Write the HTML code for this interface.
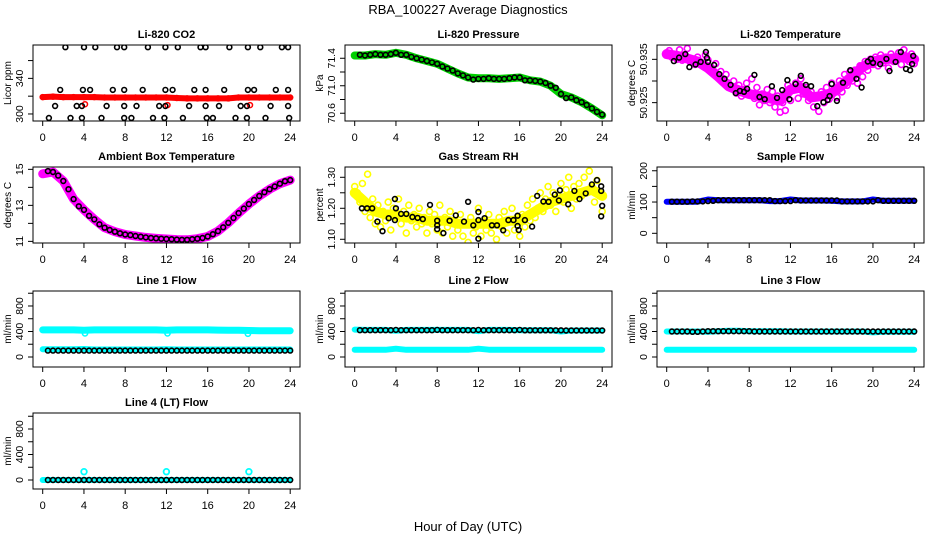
<!DOCTYPE html>
<html><head><meta charset="utf-8">
<style>
body{margin:0;background:#fff;}
svg{display:block;font-family:"Liberation Sans",Arial,sans-serif;}
</style></head>
<body>
<svg id="chart" width="936" height="540" viewBox="0 0 936 540" xmlns="http://www.w3.org/2000/svg">
<rect width="936" height="540" fill="#fff"/>
<text x="468" y="14" text-anchor="middle" font-size="13">RBA_100227  Average Diagnostics</text>
<text x="468" y="531" text-anchor="middle" font-size="13">Hour of Day (UTC)</text>
</svg>
<script>
// ---- data ----
const xTicks = [0,4,8,12,16,20,24];
const co2BlackHours = [2.2,4,5.1,7.2,7.9,10.2,11.9,13.1,15.3,15.8,18.1,19.9,21.1,23.2,23.8,
 1.7,3.9,4.6,6.8,7.9,9.7,11.9,12.6,14.7,15.8,17.6,19.9,20.5,22.6,23.8,
 1.2,3.3,3.8,6.2,7.9,9.1,11.3,11.9,14.2,15.8,17.1,19.2,19.8,22.1,23.8,
 0.6,2.7,3.8,5.7,7.9,8.6,10.7,11.8,13.6,15.9,16.5,18.7,19.8,21.6,23.9];
const co2BlackValues = [375,375,375,375,375,375,375,375,375,375,375,375,375,375,375,
 327,327,327,327,327,327,327,327,327,327,327,327,327,327,327,
 309,309,309,309,309,309,309,309,309,309,309,309,309,309,309,
 295.5,295.5,295.5,295.5,295.5,295.5,295.5,295.5,295.5,295.5,295.5,295.5,295.5,295.5,295.5];
const co2Red = [319,319.5,319,319,319,319,318.5,318.5,318.5,318.5,318.5,318.5,318.5,318,317.5,317.5,317.5,317.5,317.5,318.5,318.5,318.5,318.5,318.5,318.5];
const co2RedOutHours = [4.1,12.1,20.1];
const co2RedOutValues = [311,310,310];

const presBlack = [71.45,71.44,71.45,71.46,71.45,71.45,71.46,71.48,71.45,71.45,71.42,71.40,71.38,71.36,71.34,71.32,71.28,71.25,71.22,71.18,71.15,71.12,71.09,71.10,71.10,71.11,71.10,71.10,71.10,71.11,71.12,71.12,71.08,71.08,71.07,71.06,71.04,71.00,70.97,70.88,70.82,70.83,70.79,70.76,70.72,70.67,70.62,70.58];
const presGreen = [71.44,71.44,71.46,71.45,71.48,71.45,71.40,71.36,71.32,71.25,71.18,71.12,71.11,71.11,71.10,71.11,71.12,71.08,71.06,71.00,70.88,70.83,70.76,70.67,70.57];

const tempBlackHours = [0.7,1.2,1.8,2.2,2.8,3.3,3.8,3.9,4,4.6,5.1,5.6,6.2,6.7,7.1,7.5,7.8,8.5,9,9.5,10.2,10.7,11.2,11.7,11.9,12.5,13,13.5,14,14.6,15.2,15.6,15.8,16,16.5,17.1,17.8,18.4,18.9,19.5,19.8,20,20.7,21.3,21.6,22.2,22.7,23.2,23.6,23.8,23.9];
const tempBlackValues = [50.9346,50.9354,50.9362,50.9332,50.9338,50.9344,50.9367,50.9353,50.9344,50.9337,50.9316,50.9305,50.9291,50.9272,50.9277,50.9275,50.9282,50.9314,50.9263,50.9258,50.9288,50.9261,50.9279,50.9302,50.9258,50.9293,50.9312,50.9291,50.9288,50.9242,50.9251,50.9256,50.9265,50.9293,50.9254,50.9296,50.9325,50.9305,50.9285,50.9345,50.9351,50.9342,50.9339,50.9351,50.9323,50.9344,50.9367,50.9328,50.9325,50.9339,50.9358];
const tempMagenta = [50.9365,50.937,50.9355,50.936,50.935,50.9372,50.9348,50.936,50.9375,
 50.9345,50.935,50.9338,50.9355,50.9342,50.9335,50.936,50.9348,
 50.933,50.9318,50.934,50.931,50.9322,50.9305,50.9315,50.9295,
 50.9285,50.93,50.9272,50.929,50.9265,50.928,50.9295,50.927,
 50.9305,50.926,50.9285,50.9245,50.927,50.9255,50.928,50.925,
 50.9275,50.924,50.9265,50.9228,50.925,50.9232,50.929,50.9255,
 50.928,50.9295,50.926,50.9305,50.927,50.9285,50.9255,50.9275,
 50.924,50.9262,50.923,50.9275,50.925,50.9285,50.9258,50.9295,
 50.928,50.9262,50.93,50.9275,50.9315,50.929,50.932,50.93,
 50.9325,50.9295,50.9335,50.931,50.9345,50.9325,50.935,50.9338,
 50.9355,50.9335,50.936,50.9342,50.9355,50.933,50.9362,50.9345,
 50.9352,50.9365,50.9338,50.9372,50.935,50.9345,50.9362,50.934];
const tempMagentaTrend = [50.9362,50.9358,50.9352,50.9345,50.933,50.931,50.9288,50.9278,50.927,50.9265,50.926,50.9255,50.928,50.9285,50.9262,50.9265,50.9272,50.929,50.9312,50.9332,50.9345,50.935,50.9352,50.9356,50.935];

const ambBlack = [14.9,14.85,14.65,14.35,13.9,13.35,12.95,12.75,12.42,12.22,11.95,11.76,11.63,11.54,11.45,11.38,11.35,11.3,11.26,11.22,11.19,11.17,11.15,11.13,11.12,11.1,11.09,11.09,11.12,11.15,11.19,11.27,11.4,11.57,11.78,12.03,12.3,12.57,12.82,13.07,13.3,13.52,13.73,13.9,14.05,14.2,14.34,14.4];
const ambMagenta = [14.75,14.85,14.35,13.35,12.75,12.22,11.76,11.54,11.38,11.3,11.22,11.17,11.13,11.1,11.09,11.15,11.27,11.57,12.03,12.57,13.07,13.52,13.9,14.2,14.4];

const rhBlackHours = [0.7,1.2,1.7,2.2,2.7,3.3,3.9,3.9,4,4.5,5,5.6,6.1,6.6,7.3,8,8,8,8.6,9.2,9.8,10.6,11,11.5,12,12,12,12.6,13.3,13.8,14.4,14.9,15.4,15.8,15.8,15.9,16.5,17.2,17.7,18.3,18.8,19.4,19.8,19.9,20.7,21.3,21.8,22.4,23,23.5,23.9,23.9,24,23.9];
const rhBlackValues = [1.20,1.20,1.20,1.157,1.126,1.168,1.23,1.162,1.20,1.182,1.182,1.172,1.169,1.165,1.211,1.16,1.133,1.145,1.12,1.16,1.177,1.157,1.221,1.145,1.188,1.102,1.162,1.168,1.145,1.145,1.129,1.162,1.162,1.176,1.143,1.13,1.162,1.141,1.24,1.222,1.221,1.244,1.225,1.258,1.213,1.256,1.23,1.248,1.277,1.291,1.271,1.256,1.208,1.174];
const rhYellow = [1.27,1.25,1.22,1.28,1.19,1.31,1.17,1.23,1.15,
 1.21,1.14,1.19,1.16,1.22,1.13,1.2,1.17,
 1.23,1.15,1.19,1.12,1.21,1.16,1.18,1.14,
 1.2,1.15,1.17,1.12,1.19,1.15,1.18,1.13,
 1.21,1.12,1.17,1.14,1.19,1.11,1.16,1.13,
 1.18,1.11,1.15,1.09,1.17,1.12,1.14,1.2,
 1.11,1.16,1.13,1.18,1.12,1.15,1.1,1.17,
 1.14,1.19,1.12,1.16,1.2,1.13,1.17,1.11,
 1.18,1.14,1.21,1.16,1.23,1.17,1.2,1.25,
 1.19,1.23,1.27,1.21,1.25,1.19,1.24,1.28,
 1.22,1.26,1.3,1.2,1.27,1.23,1.28,1.24,
 1.3,1.25,1.32,1.27,1.22,1.29,1.24,1.19];
const rhYellowTrend = [1.25,1.22,1.19,1.18,1.18,1.17,1.17,1.16,1.16,1.16,1.15,1.15,1.15,1.15,1.15,1.16,1.16,1.18,1.2,1.22,1.23,1.24,1.25,1.26,1.24];

const sampleBlue = [101,101,101,101,108,106,106,106,106,106,103,103,108,105,105,105,104,102,102,102,108,104,104,104,104];
const sampleBlack = [101,101,101,101,102,102,102,103,104,106,106,106,106,106,106,106,106,106,106,106,103,103,103,103,106,105,105,105,105,105,105,105,105,102,102,102,102,102,102,102,106,104,104,104,104,104,104,104];

const line1CyanHigh = [425,425,425,425,420,425,425,425,425,425,425,425,420,425,425,425,425,422,420,420,415,410,410,410,410];
const line1CyanLow = [120,120,120,120,125,118,118,118,118,118,118,118,122,118,118,118,118,118,118,118,118,118,118,118,118];
const line1Black = [100,100,100,100,100,100,100,100,100,100,100,100,100,100,100,100,100,100,100,100,100,100,100,100,100,100,100,100,100,100,100,100,100,100,100,100,100,100,100,100,100,100,100,100,100,100,100,100];
const line1OutHours = [4.1,12.1,19.9];
const line1OutValues = [370,370,365];

const line2CyanHigh = [430,425,425,425,410,425,425,425,425,425,425,425,405,425,425,425,420,420,420,420,400,415,415,415,415];
const line2CyanLow = [112,112,112,112,130,112,112,112,112,112,112,112,130,115,115,112,112,112,112,112,112,112,112,112,112];
const line2Black = [420,420,420,420,420,420,420,425,420,420,420,420,420,420,420,425,420,420,420,420,420,420,420,425,420,420,420,420,420,420,420,425,418,418,418,418,418,418,418,418,415,415,415,415,415,415,415,415];

const line3CyanHigh = [400,400,400,400,395,405,410,410,405,405,405,405,400,400,400,400,400,400,400,400,385,395,395,395,395];
const line3CyanLow = [115,115,115,115,115,115,115,115,112,112,112,112,112,112,112,112,112,112,112,112,112,112,112,112,112];
const line3Black = [400,400,400,400,395,395,400,405,405,405,405,405,405,405,405,405,400,400,400,400,400,400,400,400,400,400,400,400,400,400,400,400,400,400,400,400,400,400,400,400,400,400,400,400,400,400,400,400];

const line4Cyan = [0,0,0,0,0,0,0,0,0,0,0,0,0,0,0,0,0,0,0,0,0,0,0,0,0];
const line4Black = [0,0,0,0,0,0,0,0,0,0,0,0,0,0,0,0,0,0,0,0,0,0,0,0,0,0,0,0,0,0,0,0,0,0,0,0,0,0,0,0,0,0,0,0,0,0,0,0];
const line4SpikeHours = [4,12,20];
const line4SpikeValues = [130,130,130];

// ---- drawing ----
const NS = "http://www.w3.org/2000/svg";
const svg = document.getElementById('chart');
const colLeft = [33,345,657], rowTop = [45,167,291,413], BW = 267, BH = 76;
function mk(tag, attrs, parent){ const e=document.createElementNS(NS,tag); for(const k in attrs) e.setAttribute(k,attrs[k]); (parent||svg).appendChild(e); return e; }
function hourly(i){ return i; }
function halfHourly(i){ return 0.5*(i+1); }
function quarterHourly(i){ return 0.25*i; }

function panel(name, col, row, title, ylab, ymin, ymax, yTicks, yLabels, layers){
  const L = colLeft[col], T = rowTop[row];
  const g = mk('g',{});
  
  
  const xs = h => L + 9.7 + h * (247.5/24);
  const ys = v => T + BH - (v - ymin) / (ymax - ymin) * BH;
  const clipId = 'clip-' + name;
  const cp = mk('clipPath',{id:clipId}, g);
  mk('rect',{x:L,y:T,width:BW,height:BH}, cp);
  const dg = mk('g',{'clip-path':'url(#'+clipId+')'}, g);
  
  
  layers.forEach(ly => {
    const hs = ly.values.map((v,i) => ly.hours ? ly.hours[i] : ly.hx(i));
    if (ly.type === 'band') {
      const pts = ly.values.map((v,i) => xs(hs[i]).toFixed(1)+','+ys(v).toFixed(1)).join(' ');
      const pl = mk('polyline',{points:pts, fill:'none', stroke:ly.color, 'stroke-width':ly.w, 'stroke-linejoin':'round','stroke-linecap':'round'}, dg);
      
      
    } else {
      const pg = mk('g',{}, dg);
      
      
      ly.values.forEach((v,i) => {
        const c = mk('circle',{cx:xs(hs[i]).toFixed(1), cy:ys(v).toFixed(1), r:ly.r||2.4, fill:'none', stroke:ly.color, 'stroke-width':ly.sw||1.6}, pg);
        
        
      });
    }
  });
  const box = mk('rect',{x:L,y:T,width:BW,height:BH,fill:'none',stroke:'#000','stroke-width':1}, g);
  
  
  const tt = mk('text',{x:L+BW/2, y:T-7, 'text-anchor':'middle','font-size':11,'font-weight':'bold'}, g);
  tt.textContent = title;
  
  
  const xa = mk('g',{}, g);
  
  
  xTicks.forEach(t => {
    mk('line',{x1:xs(t),x2:xs(t),y1:T+BH,y2:T+BH+5,stroke:'#000'}, xa);
    const tx = mk('text',{x:xs(t), y:T+BH+20, 'text-anchor':'middle','font-size':11}, xa);
    tx.textContent = String(t);
    
    
  });
  const ya = mk('g',{}, g);
  
  
  yTicks.forEach(t => {
    mk('line',{x1:L-5,x2:L,y1:ys(t),y2:ys(t),stroke:'#000'}, ya);
  });
  yLabels.forEach(t => {
    const y = ys(parseFloat(t));
    const tx = mk('text',{x:0,y:0,'text-anchor':'middle','font-size':10.5, transform:'translate('+(L-10)+','+y.toFixed(1)+') rotate(-90)'}, ya);
    tx.textContent = t;
    
    
  });
  const yl = mk('text',{x:0,y:0,'text-anchor':'middle','font-size':10, transform:'translate('+(L-22)+','+(T+BH/2)+') rotate(-90)'}, g);
  yl.textContent = ylab;
  
  
}

panel('co2',0,0,'Li-820 CO2','Licor ppm',292.1,377.5,[300,320,340,360],['300','340'],[
  {type:'band',name:'co2-red-band',color:'#f00',w:6,values:co2Red,hx:hourly},
  {type:'pts',name:'co2-red-points',color:'#f00',r:2.5,sw:1.5,values:co2Red,hx:hourly},
  {type:'pts',name:'co2-red-outliers',color:'#f00',r:2.5,sw:1.5,values:co2RedOutValues,hours:co2RedOutHours},
  {type:'pts',name:'co2-average-points',color:'#000',values:co2BlackValues,hours:co2BlackHours}
]);
panel('pressure',1,0,'Li-820 Pressure','kPa',70.487,71.593,[70.6,70.8,71.0,71.2,71.4],['70.6','71.0','71.4'],[
  {type:'band',name:'pressure-green-band',color:'#00d000',w:8,values:presGreen,hx:hourly},
  {type:'pts',name:'pressure-average-points',color:'#000',values:presBlack,hx:halfHourly}
]);
panel('temperature',2,0,'Li-820 Temperature','degrees C',50.92076,50.93831,[50.925,50.930,50.935],['50.925','50.935'],[
  {type:'band',name:'temperature-magenta-trend',color:'#f0f',w:10,values:tempMagentaTrend,hx:hourly},
  {type:'pts',name:'temperature-magenta-points',color:'#f0f',r:3,sw:1.6,values:tempMagenta,hx:quarterHourly},
  {type:'pts',name:'temperature-average-points',color:'#000',values:tempBlackValues,hours:tempBlackHours}
]);
panel('ambient',0,1,'Ambient Box Temperature','degrees C',10.91,15.13,[11,12,13,14,15],['11','13','15'],[
  {type:'band',name:'ambient-magenta-band',color:'#f0f',w:9,values:ambMagenta,hx:hourly},
  {type:'pts',name:'ambient-average-points',color:'#000',values:ambBlack,hx:halfHourly}
]);
panel('rh',1,1,'Gas Stream RH','percent',1.088,1.3332,[1.10,1.15,1.20,1.25,1.30],['1.10','1.20','1.30'],[
  {type:'band',name:'rh-yellow-trend',color:'#ff0',w:10,values:rhYellowTrend,hx:hourly},
  {type:'pts',name:'rh-yellow-points',color:'#ff0',r:3,sw:1.6,values:rhYellow,hx:quarterHourly},
  {type:'pts',name:'rh-average-points',color:'#000',values:rhBlackValues,hours:rhBlackHours}
]);
panel('sample-flow',2,1,'Sample Flow','ml/min',-31,212,[0,50,100,150,200],['0','100','200'],[
  {type:'band',name:'sample-blue-band',color:'#00f',w:6,values:sampleBlue,hx:hourly},
  {type:'pts',name:'sample-average-points',color:'#000',values:sampleBlack,hx:halfHourly}
]);
const flowTicks=[0,200,400,600,800,1000], flowLabels=['0','400','800'];
panel('line1',0,2,'Line 1 Flow','ml/min',-157,1035,flowTicks,flowLabels,[
  {type:'band',name:'line1-cyan-high',color:'#0ff',w:7,values:line1CyanHigh,hx:hourly},
  {type:'band',name:'line1-cyan-low',color:'#0ff',w:6,values:line1CyanLow,hx:hourly},
  {type:'pts',name:'line1-cyan-outliers',color:'#0ff',r:2.6,sw:1.6,values:line1OutValues,hours:line1OutHours},
  {type:'pts',name:'line1-average-points',color:'#000',values:line1Black,hx:halfHourly}
]);
panel('line2',1,2,'Line 2 Flow','ml/min',-157,1035,flowTicks,flowLabels,[
  {type:'band',name:'line2-cyan-high',color:'#0ff',w:6,values:line2CyanHigh,hx:hourly},
  {type:'band',name:'line2-cyan-low',color:'#0ff',w:6,values:line2CyanLow,hx:hourly},
  {type:'pts',name:'line2-average-points',color:'#000',values:line2Black,hx:halfHourly}
]);
panel('line3',2,2,'Line 3 Flow','ml/min',-157,1035,flowTicks,flowLabels,[
  {type:'band',name:'line3-cyan-high',color:'#0ff',w:6,values:line3CyanHigh,hx:hourly},
  {type:'band',name:'line3-cyan-low',color:'#0ff',w:6,values:line3CyanLow,hx:hourly},
  {type:'pts',name:'line3-average-points',color:'#000',values:line3Black,hx:halfHourly}
]);
panel('line4',0,3,'Line 4 (LT) Flow','ml/min',-141,1051,flowTicks,flowLabels,[
  {type:'band',name:'line4-cyan-band',color:'#0ff',w:6,values:line4Cyan,hx:hourly},
  {type:'pts',name:'line4-cyan-spikes',color:'#0ff',r:2.8,sw:1.8,values:line4SpikeValues,hours:line4SpikeHours},
  {type:'pts',name:'line4-average-points',color:'#000',values:line4Black,hx:halfHourly}
]);
</script>
</body></html>
